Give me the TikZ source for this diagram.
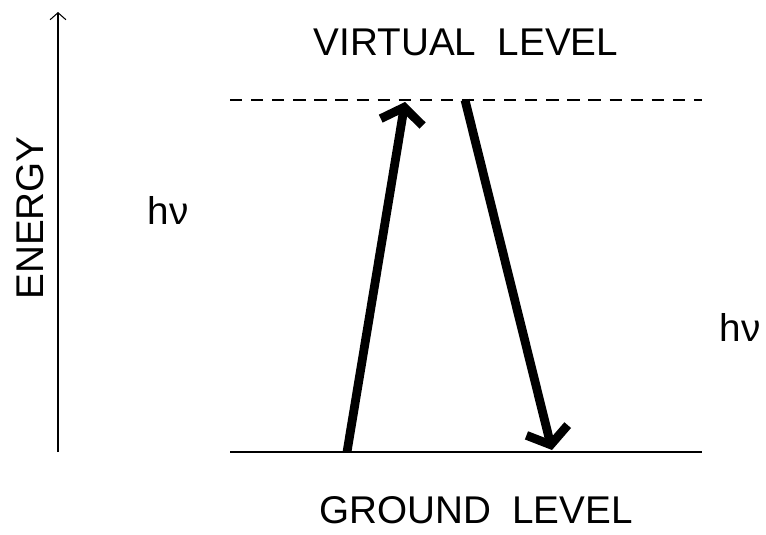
\documentclass[tikz,border=0pt]{standalone}
\usepackage{fontspec}
\setmainfont{Liberation Sans}
\usetikzlibrary{arrows.meta}

\begin{document}
\begin{tikzpicture}[x=0.02cm, y=-0.02cm]
    \useasboundingbox (0,0) rectangle (766,534);
    \tikzset{label text/.style={font=\fontsize{22}{24}\selectfont},
             photon/.style={line width=5pt, -{Straight Barb[length=0.3cm, width=0.85cm]}}}
    % energy axis
    \coordinate (axis_bottom) at (58,452);
    \coordinate (axis_top) at (58,12);
    \draw[-{Straight Barb[length=4pt, width=9pt]}, line width=0.6pt] (axis_bottom) -- (axis_top);
    \node[label text, rotate=90] (energy) at (30,218) {ENERGY};
    % levels
    \coordinate (virtual_left) at (230,100);
    \coordinate (virtual_right) at (702,100);
    \coordinate (ground_left) at (230,452);
    \coordinate (ground_right) at (702,452);
    \draw[line width=0.8pt, dash pattern=on 7pt off 5pt] (virtual_left) -- (virtual_right);
    \draw[line width=0.8pt] (ground_left) -- (ground_right);
    \node[label text] (virtual) at (466,42) {VIRTUAL\ \ LEVEL};
    \node[label text] (ground) at (476,510) {GROUND\ \ LEVEL};
    % transitions
    \coordinate (up_start) at (347,452);
    \coordinate (up_end) at (405,102);
    \coordinate (down_start) at (465,100);
    \coordinate (down_end) at (552,450);
    \draw[photon] (up_start) -- (up_end);
    \draw[photon] (down_start) -- (down_end);
    \node[label text] (hnu_in) at (168,210) {hν};
    \node[label text] (hnu_out) at (740,327) {hν};
\end{tikzpicture}
\end{document}
